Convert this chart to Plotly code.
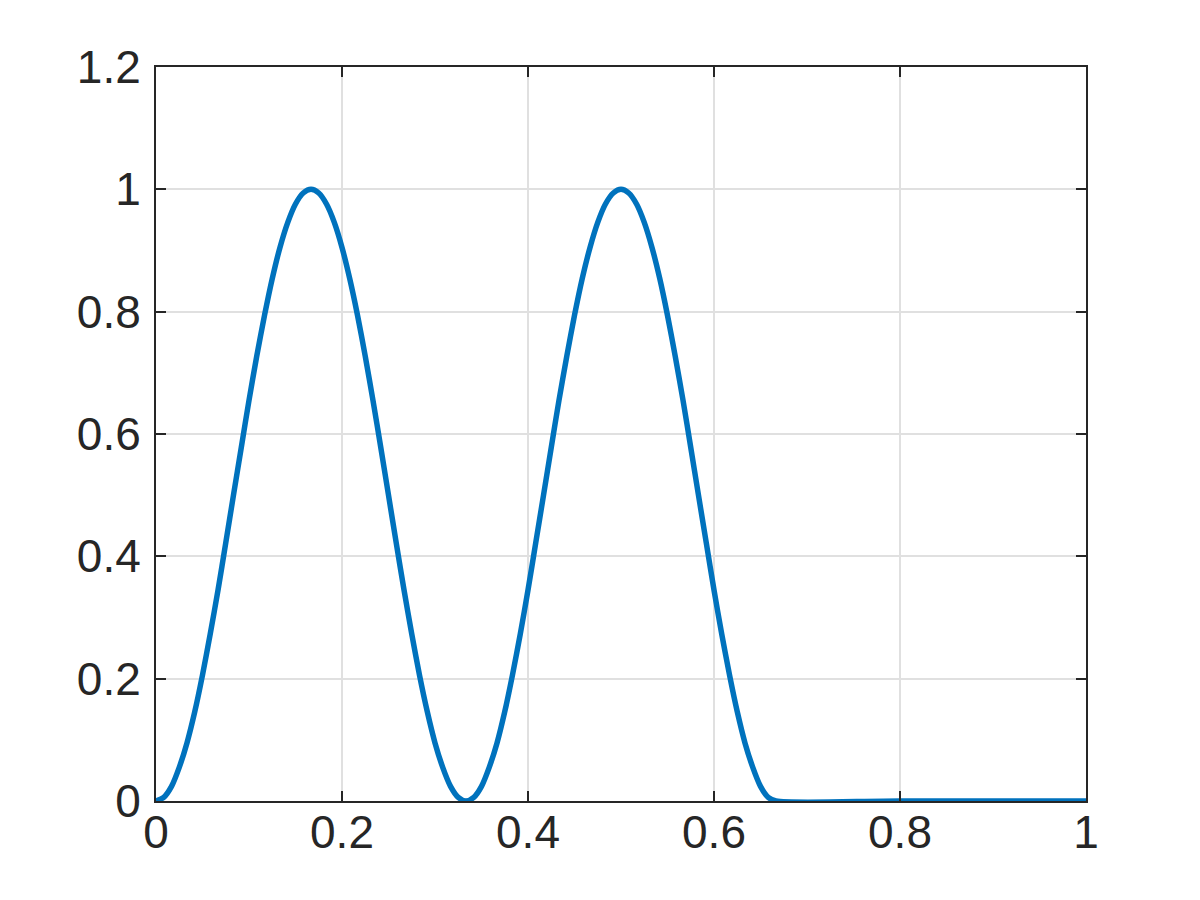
import plotly.graph_objects as go

x_vals = [0.0000, 0.0083, 0.0167, 0.0250, 0.0333, 0.0417, 0.0500, 0.0583, 0.0667, 0.0750,
          0.0833, 0.0917, 0.1000, 0.1083, 0.1167, 0.1250, 0.1333, 0.1417, 0.1500, 0.1583,
          0.1667, 0.1750, 0.1833, 0.1917, 0.2000, 0.2083, 0.2167, 0.2250, 0.2333, 0.2417,
          0.2500, 0.2583, 0.2667, 0.2750, 0.2833, 0.2917, 0.3000, 0.3083, 0.3167, 0.3250,
          0.3333, 0.3417, 0.3500, 0.3583, 0.3667, 0.3750, 0.3833, 0.3917, 0.4000, 0.4083,
          0.4167, 0.4250, 0.4333, 0.4417, 0.4500, 0.4583, 0.4667, 0.4750, 0.4833, 0.4917,
          0.5000, 0.5083, 0.5167, 0.5250, 0.5333, 0.5417, 0.5500, 0.5583, 0.5667, 0.5750,
          0.5833, 0.5917, 0.6000, 0.6083, 0.6167, 0.6250, 0.6333, 0.6417, 0.6500, 0.6583,
          0.6667, 0.8000, 1.0000]
y_vals = [0.000, 0.006, 0.024, 0.055, 0.095, 0.146, 0.206, 0.273, 0.345, 0.422,
          0.500, 0.578, 0.655, 0.727, 0.794, 0.854, 0.905, 0.946, 0.976, 0.994,
          1.000, 0.994, 0.976, 0.946, 0.905, 0.854, 0.794, 0.727, 0.655, 0.578,
          0.500, 0.422, 0.345, 0.273, 0.206, 0.146, 0.095, 0.055, 0.024, 0.006,
          0.000, 0.006, 0.024, 0.055, 0.095, 0.146, 0.206, 0.273, 0.345, 0.422,
          0.500, 0.578, 0.655, 0.727, 0.794, 0.854, 0.905, 0.946, 0.976, 0.994,
          1.000, 0.994, 0.976, 0.946, 0.905, 0.854, 0.794, 0.727, 0.655, 0.578,
          0.500, 0.422, 0.345, 0.273, 0.206, 0.146, 0.095, 0.055, 0.024, 0.006,
          0.000, 0.000, 0.000]

x_ticks = [0, 0.2, 0.4, 0.6, 0.8, 1]
x_tick_labels = ["0", "0.2", "0.4", "0.6", "0.8", "1"]
y_ticks = [0, 0.2, 0.4, 0.6, 0.8, 1, 1.2]
y_tick_labels = ["0", "0.2", "0.4", "0.6", "0.8", "1", "1.2"]

fig = go.Figure()
fig.add_trace(go.Scatter(
    x=x_vals, y=y_vals, mode="lines",
    line=dict(color="#0072BD", width=5.5, shape="spline", smoothing=0.8),
    showlegend=False, cliponaxis=False,
))

axis_common = dict(
    showline=True, linecolor="#262626", linewidth=2, mirror="ticks",
    ticks="inside", ticklen=10, tickwidth=2, tickcolor="#262626",
    showgrid=True, gridcolor="#e0e0e0", gridwidth=2,
    zeroline=False,
    tickfont=dict(family="Liberation Sans, Arial, Helvetica, sans-serif", size=46, color="#262626"),
)

fig.update_xaxes(range=[0, 1], tickvals=x_ticks, ticktext=x_tick_labels,
                 ticklabelstandoff=-10, **axis_common)
fig.update_yaxes(range=[0, 1.2], tickvals=y_ticks, ticktext=y_tick_labels,
                 ticklabelstandoff=4, **axis_common)

fig.update_layout(
    width=1200, height=900,
    margin=dict(l=148, r=122, t=59, b=107),
    paper_bgcolor="white", plot_bgcolor="white",
)

fig.write_html("out.html")
